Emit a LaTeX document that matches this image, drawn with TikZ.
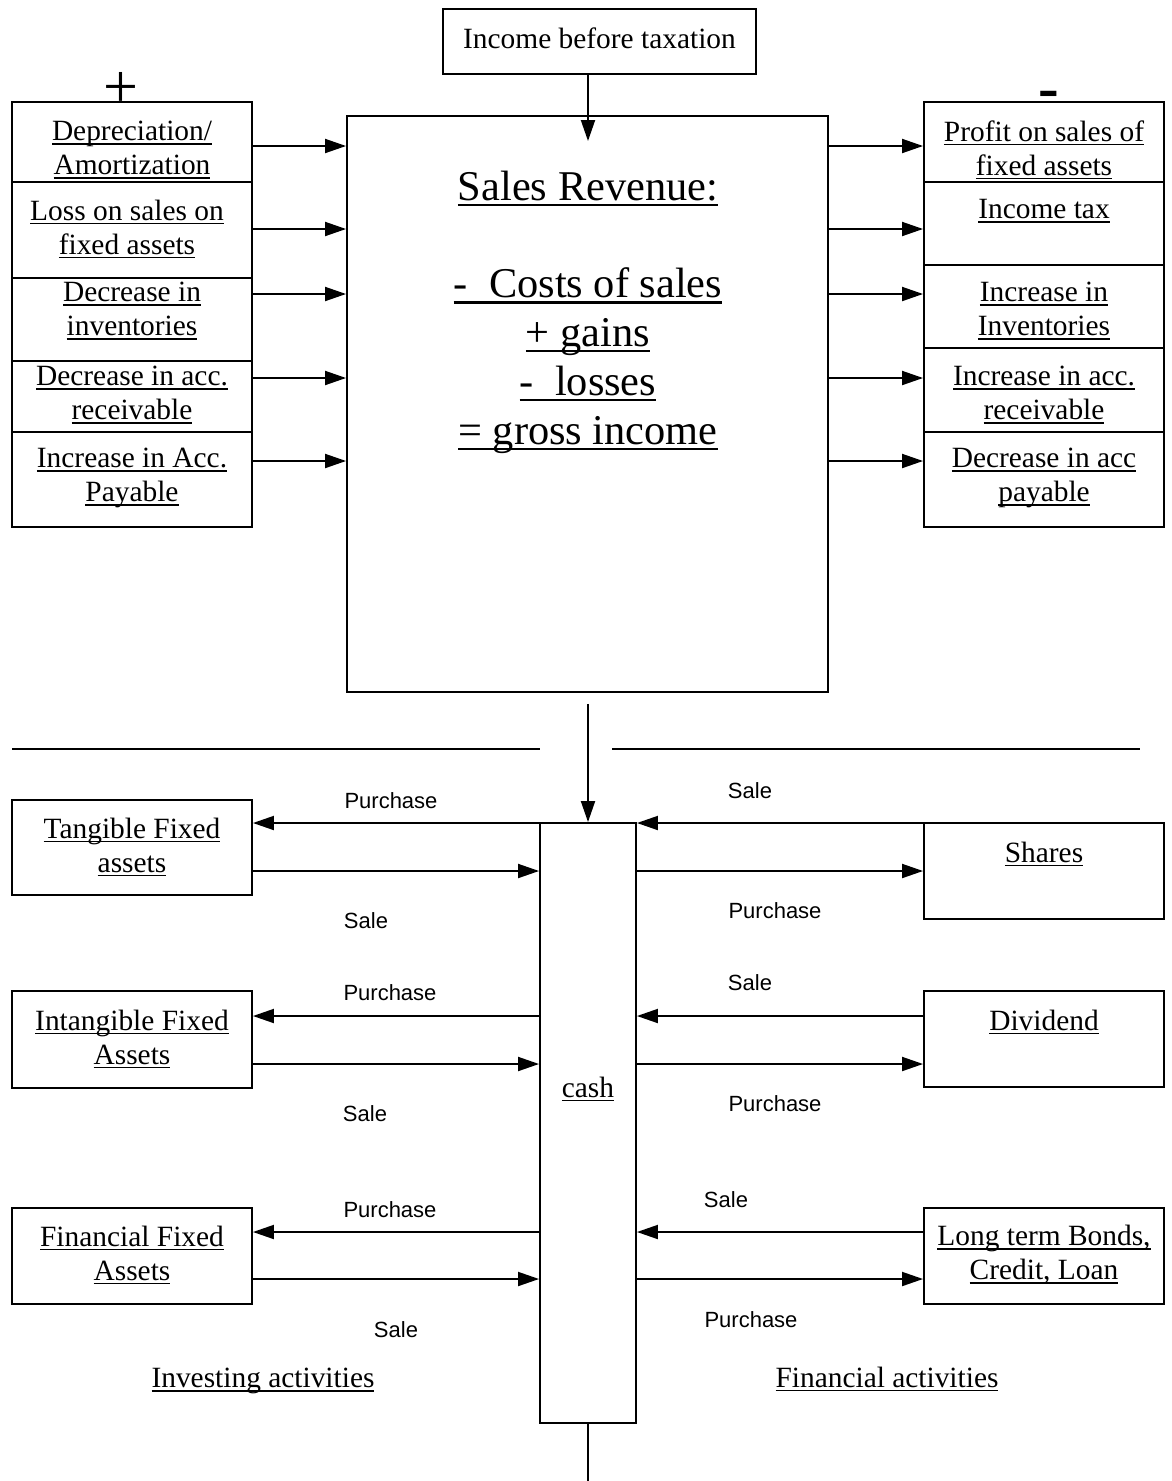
\documentclass[tikz,border=0pt]{standalone}
\usepackage{fontspec}
\setmainfont{Liberation Serif}
\newfontfamily\sansf{Liberation Sans}
\usetikzlibrary{arrows.meta,calc}
\newcommand{\ulx}[1]{\setbox0\hbox{#1}\rlap{\rule[-0.14em]{\wd0}{0.055em}}\box0}
\tikzset{
  bx/.style={draw, line width=1.9pt, inner sep=0pt, minimum width=#1},
  bx/.default=240pt,
  txt/.style={align=center, inner sep=0pt, font=\fontsize{29.4}{34}\selectfont},
  lab/.style={inner sep=0pt, font=\sansf\fontsize{22}{26}\selectfont},
  arr/.style={-{Triangle[length=21pt,width=14pt]}, line width=1.9pt},
  sep/.style={line width=1.9pt}
}
\begin{document}
\begin{tikzpicture}[x=1pt,y=-1pt]
\useasboundingbox (0,0) rectangle (1172,1481);
% top box
\node[bx=313pt, minimum height=65pt] (top) at (599.5,41.5) {};
\node[txt] (toptxt) at (599.5,38) {Income before taxation};
% sales box
\node[bx=481pt, minimum height=576pt] (sales) at (587.5,404) {};
\node[align=center, inner sep=0pt, font=\fontsize{42.4}{48.8}\selectfont] (salestxt) at (588,312)
 {\ulx{Sales Revenue:}\\[48.8pt]\ulx{-\ \ Costs of sales}\\\ulx{+ gains}\\\ulx{-\ \ losses}\\\ulx{= gross income}};
\coordinate (salesin) at (588,141);
\draw[arr] (top.south -| salesin) -- (salesin);
% signs
\node[anchor=base, inner sep=0pt, font=\fontsize{62}{62}\selectfont] (plus) at (121,107) {+};
\node[anchor=base, inner sep=0pt, font=\bfseries\fontsize{62}{62}\selectfont] (minus) at (1049,108) {-};
% left stack
\node[bx, minimum height=80pt] (L1) at (132,142) {};
\node[bx, minimum height=96pt] (L2) at (132,230) {};
\node[bx, minimum height=83pt] (L3) at (132,319.5) {};
\node[bx, minimum height=71pt] (L4) at (132,396.5) {};
\node[bx, minimum height=95pt] (L5) at (132,479.5) {};
\node[txt] (L1t) at (132,150) {\ulx{Depreciation/}\\\ulx{Amortization}};
\node[txt] (L2t) at (127,229) {\ulx{Loss on sales on}\\\ulx{fixed assets}};
\node[txt] (L3t) at (132,311) {\ulx{Decrease in}\\\ulx{inventories}};
\node[txt] (L4t) at (132,395) {\ulx{Decrease in acc.}\\\ulx{receivable}};
\node[txt] (L5t) at (132,478) {\ulx{Increase in Acc.}\\\ulx{Payable}};
% right stack
\node[bx, minimum height=80pt] (R1) at (1044,142) {};
\node[bx, minimum height=83pt] (R2) at (1044,223.5) {};
\node[bx, minimum height=83pt] (R3) at (1044,306.5) {};
\node[bx, minimum height=84pt] (R4) at (1044,390) {};
\node[bx, minimum height=95pt] (R5) at (1044,479.5) {};
\node[txt] (R1t) at (1044,150) {\ulx{Profit on sales of}\\\ulx{fixed assets}};
\node[txt] (R2t) at (1044,211) {\ulx{Income tax}};
\node[txt] (R3t) at (1044,311) {\ulx{Increase in}\\\ulx{Inventories}};
\node[txt] (R4t) at (1044,395) {\ulx{Increase in acc.}\\\ulx{receivable}};
\node[txt] (R5t) at (1044,478) {\ulx{Decrease in acc}\\\ulx{payable}};
% arrows into / out of sales
\foreach \n/\y in {L1/146,L2/229,L3/294,L4/378,L5/461}{
  \draw[arr] (\n.east |- 0,\y) -- (sales.west |- 0,\y);
}
\foreach \n/\y in {R1/146,R2/229,R3/294,R4/378,R5/461}{
  \draw[arr] (sales.east |- 0,\y) -- (\n.west |- 0,\y);
}
% separators
\coordinate (s1) at (12,749); \coordinate (s2) at (540,749);
\coordinate (s3) at (612,749); \coordinate (s4) at (1140,749);
\draw[sep] (s1) -- (s2);
\draw[sep] (s3) -- (s4);
% cash
\node[bx=96pt, minimum height=600pt] (cash) at (588,1123) {};
\node[txt] (casht) at (588,1089) {\ulx{cash}};
\draw[arr] ($(sales.south)+(0.5,11)$) -- (cash.north);
\coordinate (bottomend) at (588,1481);
\draw[sep] (cash.south) -- (bottomend);
% left lower boxes
\node[bx, minimum height=95pt] (T) at (132,847.5) {};
\node[bx, minimum height=97pt] (I) at (132,1039.5) {};
\node[bx, minimum height=96pt] (F) at (132,1256) {};
\node[txt] (Tt) at (132,847) {\ulx{Tangible Fixed}\\\ulx{assets}};
\node[txt] (It) at (132,1039) {\ulx{Intangible Fixed}\\\ulx{Assets}};
\node[txt] (Ft) at (132,1255) {\ulx{Financial Fixed}\\\ulx{Assets}};
% right lower boxes
\node[bx, minimum height=96pt] (S) at (1044,871) {};
\node[bx, minimum height=96pt] (D) at (1044,1039) {};
\node[bx, minimum height=96pt] (B) at (1044,1256) {};
\node[txt] (St) at (1044,854) {\ulx{Shares}};
\node[txt] (Dt) at (1044,1022) {\ulx{Dividend}};
\node[txt] (Bt) at (1044,1255) {\ulx{Long term Bonds,}\\\ulx{Credit, Loan}};
% lower arrows
\foreach \l/\r/\a/\b in {T/S/823/871, I/D/1016/1064, F/B/1232/1279}{
  \draw[arr] (cash.west |- 0,\a) -- (\l.east |- 0,\a);
  \draw[arr] (\l.east |- 0,\b) -- (cash.west |- 0,\b);
  \draw[arr] (\r.west |- 0,\a) -- (cash.east |- 0,\a);
  \draw[arr] (cash.east |- 0,\b) -- (\r.west |- 0,\b);
}
% labels
\node[lab] (p1) at (391,801) {Purchase};
\node[lab] (s1l) at (366,921) {Sale};
\node[lab] (s1r) at (750,791) {Sale};
\node[lab] (p1r) at (775,911) {Purchase};
\node[lab] (p2) at (390,993) {Purchase};
\node[lab] (s2l) at (365,1114) {Sale};
\node[lab] (s2r) at (750,983) {Sale};
\node[lab] (p2r) at (775,1104) {Purchase};
\node[lab] (p3) at (390,1210) {Purchase};
\node[lab] (s3l) at (396,1330) {Sale};
\node[lab] (s3r) at (726,1200) {Sale};
\node[lab] (p3r) at (751,1320) {Purchase};
\node[txt] (inv) at (263,1381) {\ulx{Investing activities}};
\node[txt] (fin) at (887,1379) {\ulx{Financial activities}};
\end{tikzpicture}
\end{document}
